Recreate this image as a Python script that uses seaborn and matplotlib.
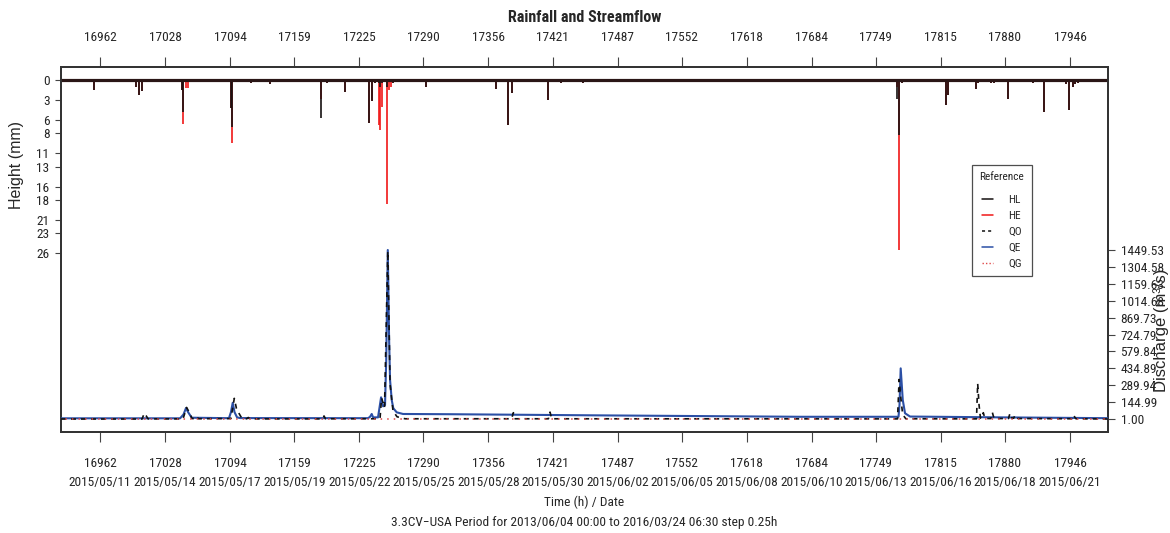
import matplotlib
matplotlib.use("Agg")
import numpy as np
import pandas as pd
import matplotlib.pyplot as plt
import seaborn as sns
from matplotlib.lines import Line2D
from matplotlib import font_manager as fm

# ---------------- data ----------------
tick_hours = [16962, 17028, 17094, 17159, 17225, 17290, 17356, 17421,
              17487, 17552, 17618, 17684, 17749, 17815, 17880, 17946]
tick_dates = ["2015/05/11", "2015/05/14", "2015/05/17", "2015/05/19",
              "2015/05/22", "2015/05/25", "2015/05/28", "2015/05/30",
              "2015/06/02", "2015/06/05", "2015/06/08", "2015/06/10",
              "2015/06/13", "2015/06/16", "2015/06/18", "2015/06/21"]
rain_ticks = [0, 3, 6, 8, 11, 13, 16, 18, 21, 23, 26]
q_ticks = [1.00, 144.99, 289.94, 434.89, 579.84, 724.79, 869.73,
           1014.68, 1159.63, 1304.58, 1449.53]

# rainfall events (hours, HL mm, HE mm)
rain_hours = [16956.2, 16968.8, 16978.2, 16998.5, 17001.3, 17004.3, 17008.7,
              17044.9, 17046.5, 17048.8, 17051.6, 17094.6, 17095.6, 17115.2,
              17134.5, 17185.9, 17192.0, 17210.5, 17217.3, 17235.2, 17237.6,
              17241.0, 17245.3, 17246.3, 17248.1, 17252.8, 17254.8, 17256.9,
              17259.2, 17292.7, 17363.7, 17376.2, 17379.5, 17416.2, 17429.7,
              17451.7, 17770.8, 17772.8, 17775.3, 17819.9, 17821.9, 17850.6,
              17853.0, 17865.8, 17868.9, 17883.4, 17908.8, 17919.9, 17941.6,
              17944.7, 17948.8, 17951.1, 17954.1]
rain_HL = [1.5, 0.3, 0.3, 1.0, 2.3, 1.7, 0.3,
           1.5, 4.75, 0.3, 0.2, 4.2, 7.0, 0.4,
           0.6, 5.75, 0.4, 1.75, 0.3, 6.5, 3.2,
           0.5, 0.5, 1.0, 0.4, 1.0, 0.3, 0.2,
           0.4, 1.0, 1.4, 6.8, 2.0, 3.0, 0.5,
           0.5, 2.8, 8.3, 0.5, 3.75, 2.25, 1.4,
           0.5, 0.5, 0.4, 2.9, 0.5, 4.75, 0.6,
           4.5, 1.0, 0.6, 0.4]
rain_HE = [1.5, 0.3, 0.3, 1.0, 2.3, 1.7, 0.3,
           1.5, 6.6, 1.2, 1.2, 4.2, 9.4, 0.4,
           0.6, 2.8, 0.4, 1.75, 0.3, 6.5, 3.2,
           0.5, 6.75, 7.5, 4.0, 18.6, 1.5, 1.0,
           0.4, 1.0, 1.4, 6.8, 2.0, 3.0, 0.5,
           0.5, 1.0, 25.5, 0.5, 3.75, 2.25, 1.4,
           0.5, 0.5, 0.4, 2.9, 0.5, 4.75, 0.6,
           4.5, 1.0, 0.6, 0.4]

# simulated discharge QE (hours, m3/s)
qe_hours = [16922.4, 17043.2, 17046.7, 17049.2, 17051.3, 17055.0, 17092.8,
            17094.8, 17096.6, 17098.4, 17101.0, 17104.0, 17233.9, 17235.9,
            17237.6, 17239.0, 17244.0, 17247.1, 17249.1, 17251.1, 17252.3,
            17253.9, 17255.2, 17256.2, 17257.9, 17259.5, 17263.0, 17269.4,
            17317.0, 17469.2, 17672.0, 17772.0, 17773.0, 17774.2, 17776.3,
            17778.6, 17783.7, 17875.0, 17984.5]
qe_vals = [7, 7, 40, 95, 60, 12, 8,
           60, 140, 60, 15, 9, 8, 20,
           44, 15, 15, 187, 110, 121, 500,
           1449.53, 700, 335, 164, 93, 58, 44,
           42, 32, 20, 20, 120, 435, 164,
           50, 22, 15, 8]

# observed discharge QO (hours, m3/s)
qo_hours = [16922.4, 17004.6, 17006.9, 17008.7, 17010.7, 17046.2, 17049.8,
            17052.4, 17055.3, 17058.5, 17060.1, 17061.9, 17094.8, 17098.2,
            17100.4, 17103.3, 17106.0, 17110.8, 17112.4, 17114.1, 17188.2,
            17189.2, 17190.7, 17246.0, 17247.6, 17250.6, 17253.9, 17256.2,
            17259.2, 17263.3, 17271.4, 17379.5, 17381.3, 17383.0, 17416.8,
            17418.5, 17420.2, 17771.0, 17772.6, 17774.1, 17776.2, 17779.4,
            17851.1, 17852.3, 17853.7, 17855.1, 17856.5, 17858.0, 17859.7,
            17865.6, 17867.2, 17868.9, 17883.5, 17885.1, 17887.2, 17888.8,
            17890.2, 17893.3, 17947.7, 17949.3, 17952.0, 17984.5]
qo_vals = [1, 1, 50, 30, 2, 2, 100,
           60, 5, 3, 20, 3, 5, 178,
           90, 44, 5, 3, 14, 2, 2,
           27, 3, 3, 180, 100, 1440, 300,
           70, 20, 3, 3, 55, 3, 3,
           60, 3, 2, 340, 200, 40, 3,
           2, 306, 120, 10, 5, 55, 5,
           5, 57, 5, 5, 50, 8, 8,
           35, 5, 3, 35, 3, 1]

# QG
qg_hours = [16922.4, 17984.5]
qg_vals = [1.0, 1.0]

x_min, x_max = 16922.4, 17984.5

# ---------------- style ----------------
sns.set_style("white")


def pick(cands):
    for c in cands:
        try:
            fm.findfont(fm.FontProperties(family=c), fallback_to_default=False)
            return c
        except Exception:
            pass
    return None


narrow = pick(["Liberation Sans Narrow", "Arial Narrow", "Roboto Condensed",
               "Open Sans Condensed", "DejaVu Sans Condensed"])
regular = pick(["Liberation Sans", "Arial"]) or "DejaVu Sans"
if narrow is not None:
    hfam = narrow
    fs, fs_title, fs_leg = 9.6, 11.5, 8.2
else:
    hfam = regular
    fs, fs_title, fs_leg = 8.3, 10.2, 7.0
plt.rcParams["font.family"] = [hfam, "DejaVu Sans"]

W, H = 1170, 533
fig = plt.figure(figsize=(W / 100, H / 100), dpi=100)
L, R, T, B = 61, 1108, 67, 432
ax = fig.add_axes([L / W, 1 - B / H, (R - L) / W, (B - T) / H])
ax2 = ax.twinx()

# discharge axis limits: 1 -> y 419, 1449.53 -> y 250
sc = (419 - 250) / (1449.53 - 1.0)
q_lo = 1.0 - (B - 419) / sc
q_hi = 1449.53 + (250 - T) / sc
# rain axis: 0 -> y 80, 26 -> y 253.3
rs = (253.3 - 80) / 26.0
r_top = -(80 - T) / rs
r_bot = (B - 80) / rs

# rainfall (inverted, left)
ax.axhline(0, color="#2a1616", lw=2.3, zorder=3)
ax.vlines(rain_hours, 0, rain_HE, color="#f01818", lw=1.2, zorder=2)
ax.vlines(rain_hours, 0, rain_HL, color="#151010", lw=1.2, zorder=2.5)
ax.set_ylim(r_bot, r_top)
ax.set_xlim(x_min, x_max)

# discharge (right)
df_qg = pd.DataFrame({"h": qg_hours, "q": qg_vals})
df_qe = pd.DataFrame({"h": qe_hours, "q": qe_vals})
df_qo = pd.DataFrame({"h": qo_hours, "q": qo_vals})
sns.lineplot(data=df_qe, x="h", y="q", ax=ax2, color="#2b4fa5", lw=1.5, zorder=3)
sns.lineplot(data=df_qo, x="h", y="q", ax=ax2, color="#111111", lw=1.2,
             linestyle=(0, (3, 3)), zorder=4)
sns.lineplot(data=df_qg, x="h", y="q", ax=ax2, color="#e04848", lw=1.1,
             linestyle=(1.5, (1, 3.3)), zorder=5)
ax2.set_ylim(q_lo, q_hi)
ax2.set_xlim(x_min, x_max)
ax2.set_xlabel("")
ax2.set_ylabel("")

# ticks
ax.set_yticks(rain_ticks)
ax.set_yticklabels([str(v) for v in rain_ticks], fontsize=fs)
ax.set_xticks(tick_hours)
ax.set_xticklabels([f"{h}\n{d}" for h, d in zip(tick_hours, tick_dates)], fontsize=fs)
for t in ax.get_xticklabels():
    t.set_linespacing(1.65 if narrow is None else 1.55)
ax.tick_params(axis="x", direction="out", length=7.2, width=0.8, color="#444444",
               pad=11, bottom=True)
ax.tick_params(axis="y", direction="out", length=4.3, width=0.8, color="#444444",
               pad=4, left=True)
ax2.set_yticks(q_ticks)
ax2.set_yticklabels([f"{v:.2f}" for v in q_ticks], fontsize=fs)
ax2.tick_params(axis="y", direction="out", length=5, width=0.8, color="#444444",
                pad=4, right=True)
ax.set_xlabel("")
ax.set_ylabel("")

sec = ax.secondary_xaxis("top")
sec.set_xticks(tick_hours)
sec.set_xticklabels([str(h) for h in tick_hours], fontsize=fs)
sec.tick_params(axis="x", direction="out", length=7.2, width=0.8, color="#444444", pad=9.5)
sec.spines["top"].set_visible(False)

for a in (ax, ax2):
    for s in a.spines.values():
        s.set_color("#333333")
        s.set_linewidth(1.3)

# legend
handles = [Line2D([], [], color="#151010", lw=1.1),
           Line2D([], [], color="#f01818", lw=1.1),
           Line2D([], [], color="#111111", lw=1.1, linestyle=(0, (2, 2))),
           Line2D([], [], color="#2b4fa5", lw=1.1),
           Line2D([], [], color="#e04848", lw=1.0, linestyle=(0, (1, 1.5)))]
leg = ax2.legend(handles, ["HL", "HE", "QO", "QE", "QG"], title="Reference",
                 loc="upper left",
                 bbox_to_anchor=((972 - L) / (R - L), 1 - (165 - T) / (B - T)),
                 borderaxespad=0, fontsize=fs_leg, title_fontsize=fs_leg, frameon=True,
                 fancybox=False, edgecolor="#222222", handlelength=1.0,
                 handletextpad=1.3, labelspacing=0.52, borderpad=0.65)
leg.get_frame().set_linewidth(0.9)
leg.set_zorder(10)
try:
    leg._legend_box.sep = 9.0
except Exception:
    pass

# texts
def ftxt(x, y, s, **kw):
    fig.text(x / W, 1 - y / H, s, ha="center", va="center", **kw)

ftxt(584.5, 17, "Rainfall and Streamflow", fontsize=fs_title, fontweight="bold")
ftxt(584.5, 502, "Time (h) / Date", fontsize=fs)
ftxt(584.5, 522.5, "3.3CV\u2212USA Period for 2013/06/04 00:00 to 2016/03/24 06:30 step 0.25h",
     fontsize=fs)
ftxt(17, 165, "Height (mm)", fontsize=11.5, rotation=90, family=[regular, "DejaVu Sans"])
ftxt(1161, 330, "Discharge (m\u00b3/s)", fontsize=12, rotation=90,
     family=[regular, "DejaVu Sans"])

fig.savefig("out.png", dpi=100, facecolor="white")
